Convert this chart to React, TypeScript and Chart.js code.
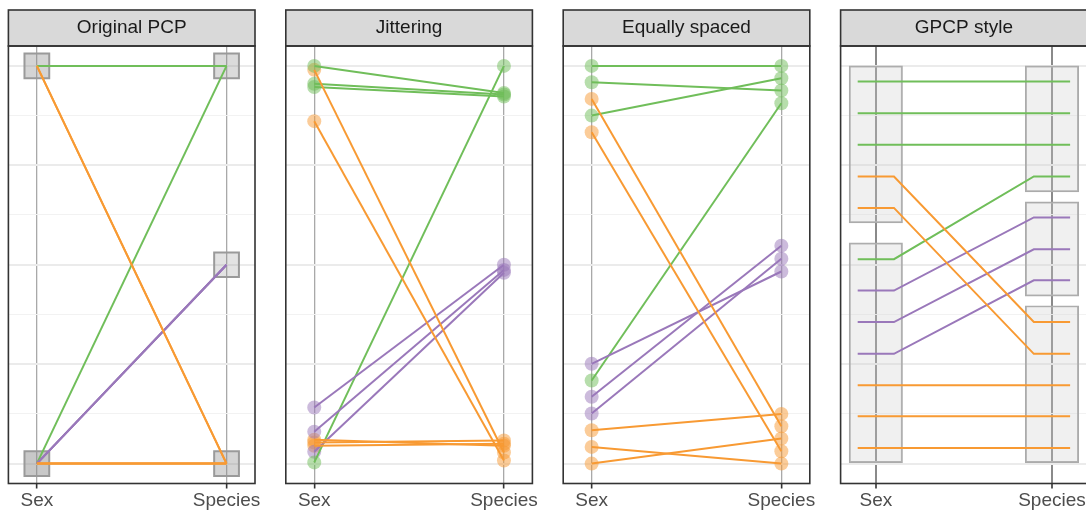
import React, { useEffect, useRef } from 'react';
import { Chart, registerables } from 'chart.js';

Chart.register(...registerables);

// ---- data -----------------------------------------------------------------

// The two parallel axes, placed at x = 1 and x = 2
const axisNames = ['Sex', 'Species'];
const panelTitles = ['Original PCP', 'Jittering', 'Equally spaced', 'GPCP style'];

// Species group of each of the 12 records (0 = top level, 1 = middle, 2 = bottom)
const recordGroup = [0, 0, 0, 2, 2, 0, 1, 1, 1, 2, 2, 2];

// Original categorical positions (0..1)
const originalSex = [1, 1, 1, 1, 1, 0, 0, 0, 0, 0, 0, 0];
const originalSpecies = [1, 1, 1, 0, 0, 1, 0.5, 0.5, 0.5, 0, 0, 0];

// Jittered positions
const jitterSex = [1.0, 0.955, 0.947, 0.99, 0.861, 0.003, 0.141, 0.08, 0.03, 0.06, 0.053, 0.045];
const jitterSpecies = [0.932, 0.928, 0.923, 0.028, 0.008, 1.0, 0.5, 0.487, 0.48, 0.045, 0.058, 0.05];

// Equally spaced positions inside each level
const spacedSex = [1.0, 0.959, 0.875, 0.917, 0.833, 0.209, 0.251, 0.168, 0.126, 0.084, 0.042, 0.0];
const spacedSpecies = [1.0, 0.938, 0.969, 0.094, 0.031, 0.906, 0.483, 0.548, 0.515, 0.125, 0.0, 0.063];

// Generalised PCP positions and level boxes [low, high]
const gpcpSex = [0.961, 0.881, 0.802, 0.722, 0.643, 0.514, 0.435, 0.356, 0.276, 0.197, 0.119, 0.039];
const gpcpSpecies = [0.961, 0.881, 0.802, 0.356, 0.276, 0.722, 0.619, 0.539, 0.461, 0.197, 0.119, 0.039];
const gpcpSexBoxes = [[0.605, 1.0], [0.0, 0.555]];
const gpcpSpeciesBoxes = [[0.683, 1.0], [0.421, 0.658], [0.0, 0.397]];

// Horizontal grid breaks (even index = major)
const yBreaks = [0, 0.125, 0.25, 0.375, 0.5, 0.625, 0.75, 0.875, 1];

// ---- styling --------------------------------------------------------------

const FONT = "'Liberation Sans', Arial, Helvetica, sans-serif";
const groupColors = ['#70BE5A', '#9A78BA', '#F89A33'];
const groupFills = ['rgba(112,190,90,0.5)', 'rgba(154,120,186,0.5)', 'rgba(248,154,51,0.5)'];
const groupOrder = [3, 2, 1]; // orange lines on top, then purple, then green

const PANEL_LEFT0 = 8.4;
const PANEL_STEP = 277.4;
const PANEL_W = 246.6;
const CANVAS_MARGIN = 24;
const CANVAS_W = 296;
const CANVAS_H = 514;
const STUB = 0.103;

type PanelKind = 'boxes' | 'points' | 'gpcp';
interface Panel {
  title: string;
  kind: PanelKind;
  sex: number[];
  species: number[];
  xMin: number;
  xMax: number;
}

const panels: Panel[] = [
  { title: panelTitles[0], kind: 'boxes', sex: originalSex, species: originalSpecies, xMin: 0.85, xMax: 2.15 },
  { title: panelTitles[1], kind: 'points', sex: jitterSex, species: jitterSpecies, xMin: 0.85, xMax: 2.15 },
  { title: panelTitles[2], kind: 'points', sex: spacedSex, species: spacedSpecies, xMin: 0.85, xMax: 2.15 },
  { title: panelTitles[3], kind: 'gpcp', sex: gpcpSex, species: gpcpSpecies, xMin: 0.8, xMax: 2.2 },
];

const panelLeft = (i: number) => PANEL_LEFT0 + i * PANEL_STEP;

// Strip background, strip frame and panel frame
const facetFrame = {
  id: 'facetFrame',
  beforeDraw(chart: any) {
    const { ctx, chartArea: a } = chart;
    const t = chart.titleBlock;
    if (!t) return;
    ctx.save();
    ctx.fillStyle = '#d9d9d9';
    ctx.fillRect(a.left, t.top, a.right - a.left, t.bottom - t.top);
    ctx.restore();
  },
  afterDraw(chart: any) {
    const { ctx, chartArea: a } = chart;
    const t = chart.titleBlock;
    ctx.save();
    ctx.strokeStyle = '#333333';
    ctx.lineWidth = 1.6;
    if (t) ctx.strokeRect(a.left, t.top, a.right - a.left, t.bottom - t.top);
    ctx.strokeRect(a.left, a.top, a.right - a.left, a.bottom - a.top);
    ctx.restore();
  },
};

function levelBoxes(values: number[], x: number) {
  const counts = new Map<number, number>();
  values.forEach((v) => counts.set(v, (counts.get(v) || 0) + 1));
  return Array.from(counts.entries()).map(([y, n]) => ({ x, y, n }));
}

function straightLines(sex: number[], species: number[]) {
  return sex.map((s, i) => ({
    type: 'line',
    data: [
      { x: 1, y: s },
      { x: 2, y: species[i] },
    ],
    borderColor: groupColors[recordGroup[i]],
    borderWidth: 2,
    pointRadius: 0,
    fill: false,
    tension: 0,
    order: groupOrder[recordGroup[i]],
  }));
}

function buildDatasets(p: Panel): any[] {
  if (p.kind === 'boxes') {
    const boxes = [...levelBoxes(p.sex, 1), ...levelBoxes(p.species, 2)];
    return [
      ...straightLines(p.sex, p.species),
      {
        type: 'scatter',
        data: boxes.map((b) => ({ x: b.x, y: b.y })),
        pointStyle: 'rect',
        pointRadius: 17.5,
        pointBackgroundColor: boxes.map((b) => `rgba(140,140,140,${(1 - Math.pow(0.91, b.n)).toFixed(3)})`),
        pointBorderColor: '#9a9a9a',
        pointBorderWidth: 2,
        showLine: false,
        order: 20,
      },
    ];
  }
  if (p.kind === 'points') {
    const pts = p.sex.map((s, i) => ({
      type: 'scatter',
      data: [
        { x: 1, y: s },
        { x: 2, y: p.species[i] },
      ],
      pointRadius: 7,
      pointBackgroundColor: groupFills[recordGroup[i]],
      pointBorderWidth: 0,
      showLine: false,
      order: 10,
    }));
    return [...straightLines(p.sex, p.species), ...pts];
  }
  // GPCP: short horizontal runs inside each level box joined by a slanted segment
  const lines = p.sex.map((s, i) => ({
    type: 'line',
    data: [
      { x: 1 - STUB, y: s },
      { x: 1 + STUB, y: s },
      { x: 2 - STUB, y: p.species[i] },
      { x: 2 + STUB, y: p.species[i] },
    ],
    borderColor: groupColors[recordGroup[i]],
    borderWidth: 2,
    pointRadius: 0,
    fill: false,
    tension: 0,
    order: groupOrder[recordGroup[i]],
  }));
  const boxes = {
    type: 'bar',
    data: [
      ...gpcpSexBoxes.map((b) => ({ x: 1, y: b })),
      ...gpcpSpeciesBoxes.map((b) => ({ x: 2, y: b })),
    ],
    backgroundColor: 'rgba(205,205,205,0.3)',
    borderColor: '#ababab',
    borderWidth: 1.3,
    borderSkipped: false,
    barThickness: 53.4,
    order: 20,
  };
  return [...lines, boxes];
}

function buildConfig(p: Panel, i: number): any {
  const left = panelLeft(i);
  const canvasLeft = Math.floor(left) - CANVAS_MARGIN;
  const padLeft = left - canvasLeft;
  const padRight = CANVAS_W - padLeft - PANEL_W;
  const isGpcp = p.kind === 'gpcp';
  return {
    type: 'scatter',
    data: { datasets: buildDatasets(p) },
    options: {
      responsive: false,
      animation: false,
      events: [],
      layout: { padding: { left: padLeft, right: padRight, top: 10, bottom: 0 } },
      plugins: {
        legend: { display: false },
        tooltip: { enabled: false },
        title: {
          display: true,
          text: p.title,
          color: '#1a1a1a',
          font: { family: FONT, size: 19, weight: 'normal', lineHeight: 1.2 },
          padding: { top: 6.6, bottom: 6.6 },
        },
      },
      scales: {
        x: {
          type: 'linear',
          min: p.xMin,
          max: p.xMax,
          offset: false,
          afterBuildTicks: (s: any) => {
            s.ticks = axisNames.map((_, k) => ({ value: k + 1 }));
          },
          afterFit: (s: any) => {
            s.height = 30.5;
          },
          ticks: {
            callback: (v: number) => axisNames[Math.round(v) - 1] ?? '',
            color: '#4d4d4d',
            font: { family: FONT, size: 19 },
            padding: 1,
            maxRotation: 0,
            autoSkip: false,
          },
          grid: {
            offset: false,
            color: isGpcp ? '#8a8a8a' : '#a9a9a9',
            lineWidth: isGpcp ? 2 : 1.3,
            tickColor: '#333333',
            tickWidth: 1.6,
            tickLength: 5,
            drawTicks: true,
          },
          border: { display: false },
        },
        y: {
          type: 'linear',
          min: -0.05,
          max: 1.05,
          afterBuildTicks: (s: any) => {
            s.ticks = yBreaks.map((v) => ({ value: v }));
          },
          afterFit: (s: any) => {
            s.width = 0;
          },
          ticks: { display: false },
          grid: {
            z: -1,
            drawTicks: false,
            color: (c: any) => (c.index % 2 === 0 ? '#ebebeb' : '#f2f2f2'),
            lineWidth: (c: any) => (c.index % 2 === 0 ? 2 : 1.1),
          },
          border: { display: false },
        },
      },
    },
    plugins: [facetFrame],
  };
}

export default function App() {
  const refs = useRef<(HTMLCanvasElement | null)[]>([]);

  useEffect(() => {
    const charts = panels.map((p, i) => new Chart(refs.current[i] as HTMLCanvasElement, buildConfig(p, i)));
    return () => charts.forEach((c) => c.destroy());
  }, []);

  return (
    <div
      style={{
        position: 'absolute',
        left: 0,
        top: 0,
        width: 1086,
        height: 514,
        overflow: 'hidden',
        background: '#ffffff',
      }}
    >
      {panels.map((p, i) => (
        <canvas
          key={p.title}
          ref={(el) => {
            refs.current[i] = el;
          }}
          width={CANVAS_W}
          height={CANVAS_H}
          style={{
            position: 'absolute',
            left: Math.floor(panelLeft(i)) - CANVAS_MARGIN,
            top: 0,
            width: CANVAS_W,
            height: CANVAS_H,
          }}
        />
      ))}
    </div>
  );
}
